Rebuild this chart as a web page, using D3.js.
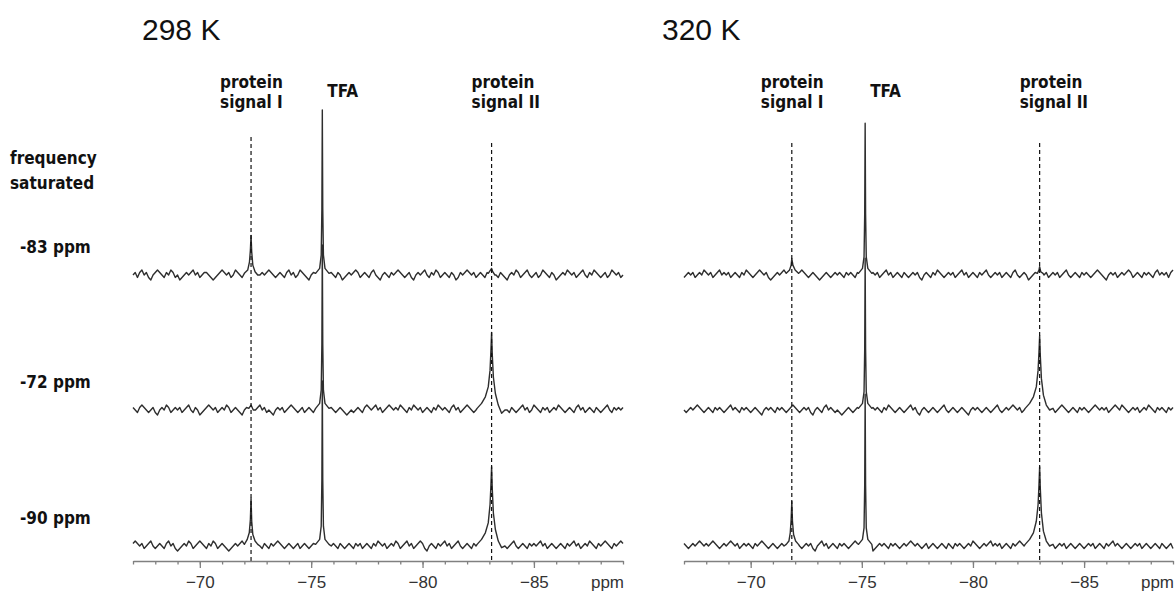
<!DOCTYPE html>
<html>
<head>
<meta charset="utf-8">
<script src="https://cdn.jsdelivr.net/npm/d3@7/dist/d3.min.js"></script>
<style>
  body { margin: 0; background: #fff; }
  svg { display: block; }
  .title { font-family: "Liberation Sans", Arial, sans-serif; font-size: 30px; fill: #111; }
  .lbl { font-family: "DejaVu Sans Condensed", "DejaVu Sans", sans-serif; font-stretch: condensed; font-weight: bold; font-size: 17px; fill: #111; }
  .axis path, .axis line { stroke: #808080; stroke-width: 1.3; }
  .axis text { font-family: "Liberation Sans", Arial, sans-serif; font-size: 17px; fill: #333; }
</style>
</head>
<body>
<svg id="chart" width="1176" height="592"></svg>
<script>
// ---- 19F saturation-transfer spectra, two temperatures ----
const temperatures = ["298 K", "320 K"];
const saturationLabels = ["-83 ppm", "-72 ppm", "-90 ppm"];
const axisTicks = [-70, -75, -80, -85];
const ppmDomain = [-67, -89];
const noiseStep = 0.1;   // ppm spacing of the baseline samples
const noiseQuantum = 1.5; // intensity units per noise step

// signal positions (ppm): protein signal I, TFA, protein signal II
const signals298 = [-72.3, -75.5, -83.1];
const signals320 = [-71.85, -75.15, -83.0];

// baseline noise (in noise quanta), one sample every 0.1 ppm from -67 to -89 ppm
const noise298a = [0,1,-1,1,2,0,1,-1,-2,0, 1,2,1,0,-1,1,0,2,1,-1, 0,-2,-1,0,1,0,1,2,0,1, -1,0,1,1,0,-1,-2,-1,0,1,
  2,1,0,1,-1,0,2,1,0,-1, 1,0,-1,-2,-3,-2,-1,0,1,0, 1,2,1,0,-1,0,1,0,-1,1, 2,0,1,-1,0,2,1,0,-1,-2,
  0,1,0,2,1,-1,0,1,2,1, 0,-1,1,0,-2,-1,0,1,0,1, 2,1,-1,0,1,0,-1,1,2,0, -1,-2,0,1,0,-1,1,0,1,2,
  1,0,-1,0,1,-1,-2,0,1,0, 1,2,0,-1,1,0,2,1,-1,0, 1,0,-1,1,0,-2,-1,1,0,1, 2,1,0,1,-1,0,1,0,-1,1,
  0,2,1,0,-1,1,0,-1,-2,0, 1,0,2,1,-1,0,1,2,0,-1, 0,1,-1,0,2,1,0,-1,1,0, -2,-1,0,1,0,2,1,0,1,-1,
  0,1,2,0,-1,1,0,2,1,0, -1,0,1,-1,0,2,1,0,1,-1, 0];
const noise298b = [1,0,-1,1,2,1,0,-1,0,1, -1,-2,0,1,0,2,1,-1,0,1, 0,1,-1,0,1,2,0,-1,1,0, -2,-1,0,1,2,1,0,1,-1,0,
  1,0,2,1,-1,0,1,0,-1,-2, 0,1,0,-1,1,0,1,2,0,1, -1,0,-1,-2,0,1,0,1,-1,0, 1,2,1,0,-1,0,1,-1,0,1,
  0,-1,-2,-1,0,1,0,-1,0,1, 0,-1,0,1,0,-1,-2,-1,0,-1, 0,1,0,-1,1,2,1,0,1,2, 0,1,-1,0,1,2,1,0,1,0,
  2,1,0,-1,1,0,2,1,0,1, -1,0,1,0,-1,1,0,2,1,0, 1,0,-1,1,2,0,1,-1,0,1, 2,1,0,-1,0,1,0,-1,1,2,
  0,1,-1,0,1,0,2,1,0,-1, 1,0,-1,0,1,2,0,1,-1,0, 2,1,0,-1,1,0,1,-1,0,1, 0,2,1,0,-1,0,1,0,-1,1,
  2,0,1,-1,0,1,0,-1,1,0, -1,0,1,2,0,-1,1,0,1,0, 1];
const noise298c = [1,2,1,0,1,-1,0,1,2,0, -1,0,1,0,-1,1,2,0,1,-1, -2,-1,0,1,0,2,1,-1,0,1, 2,1,0,-1,1,0,2,1,-1,0,
  1,0,-1,-2,-1,0,1,0,1,2, 1,0,-1,1,0,1,2,0,-1,1, 0,-1,1,0,1,2,1,0,-1,0, 1,0,-1,0,1,-1,0,1,0,-1,
  0,1,0,-1,0,1,-1,0,-1,0, 1,0,-1,1,0,-1,0,1,0,-1, 1,0,1,-1,0,1,0,-1,1,0, 2,1,0,1,-1,0,1,0,2,1,
  -1,0,1,2,0,1,-1,0,1,2, 1,-1,-2,0,1,0,-1,1,0,1, 2,0,1,-1,0,1,2,0,-1,0, 1,0,-1,1,0,-1,-2,-1,0,1,
  0,1,-1,0,1,0,1,0,-1,0, 1,2,0,-1,0,1,0,-1,1,0, 1,0,1,2,0,1,-1,0,1,0, -1,0,1,0,-1,1,0,1,2,0,
  1,-1,0,1,0,2,1,0,-1,1, 0,1,2,1,0,-1,1,0,1,2, 1];
const noise320a = [-1,0,1,0,1,-1,0,1,0,2, 1,0,1,-1,0,1,2,0,1,0, 1,-1,0,1,0,-1,1,0,2,1, 0,-1,0,1,2,1,0,1,-1,-2,
  -1,0,1,0,1,2,1,0,1,0, -1,0,1,2,1,0,-1,0,1,0, -1,-2,-1,0,1,0,-1,0,1,0, 1,0,-1,1,0,1,0,-1,1,0,
  2,1,0,-1,0,1,0,1,-1,0, 1,2,0,1,-1,0,1,0,-1,1, 0,-1,0,1,0,1,-1,-2,0,1, 0,-1,1,0,2,1,0,-1,0,1,
  0,1,-1,0,1,2,0,1,-1,0, 1,0,-1,1,0,1,2,0,-1,0, 1,0,1,-1,0,1,0,-1,1,2, 0,-1,0,1,0,-2,-1,0,1,0,
  1,2,0,1,-1,0,1,0,1,-1, 0,1,2,0,-1,0,1,0,-1,1, 0,1,0,-1,0,1,2,1,0,-1, -2,0,1,0,1,-1,0,1,0,1,
  2,1,-1,0,1,0,-1,1,0,1, 0,-1,1,2,0,1,0,1,-1,1, 2];
const noise320b = [0,-1,0,1,0,1,2,1,0,-1, 0,1,0,-1,1,0,1,0,-1,0, 1,2,0,1,0,-1,1,0,1,0, -1,0,1,0,-1,-2,0,1,0,1,
  0,-1,1,0,1,0,-1,0,1,2, 1,0,-1,0,1,0,1,-1,-2,0, 1,0,-1,1,2,0,1,0,-1,0, -1,-2,-1,0,1,0,-1,0,1,0,
  1,0,-1,-2,0,1,0,1,0,-1, 1,0,2,1,0,-1,0,1,0,-1, 0,1,2,0,1,-1,-2,0,1,0, -1,0,1,0,-1,0,1,2,0,-1,
  0,1,0,-1,0,1,0,-1,-2,0, 1,0,1,0,-1,0,1,0,-1,0, 1,2,0,-1,0,1,0,1,2,1, 0,1,-1,0,1,0,2,1,0,1,
  -1,0,1,0,-1,0,1,-1,0,1, 2,1,0,-1,0,1,0,-1,1,0, 1,0,-1,0,1,2,1,0,1,0, 1,-1,0,1,2,1,0,2,1,0,
  -1,0,1,0,1,-1,0,1,0,2, 1,0,-1,1,0,1,0,-1,1,0, 1];
const noise320c = [1,0,-1,0,1,0,1,2,1,0, 1,0,1,2,1,0,-1,0,1,0, 1,2,1,0,1,-1,0,1,0,1, 0,-1,1,0,1,2,1,0,-1,0,
  1,0,-1,0,1,0,2,1,0,-1, 0,1,0,-1,0,1,0,1,-1,-2, 0,1,2,0,1,-1,0,1,0,-1, 1,0,1,0,-1,0,1,2,1,0,
  -1,0,1,0,-1,-2,-1,0,1,0, 1,0,-1,1,0,1,0,-1,0,1, 0,1,2,1,0,1,0,-1,0,1, -1,0,1,0,-1,0,1,0,-1,1,
  0,-1,1,0,1,0,-1,0,1,0, 2,1,0,-1,0,1,0,1,2,0, 1,0,1,-1,0,1,0,-1,1,0, 1,2,1,0,-1,0,1,0,1,-1,
  0,1,0,-1,0,1,0,-1,0,1, 0,1,-1,0,1,0,-1,0,1,0, -1,0,1,0,1,-1,0,1,0,-1, 1,0,1,2,0,1,0,-1,0,1,
  0,-1,0,1,0,1,-1,0,1,0, -1,0,1,0,-1,1,0,-1,0,1, -1];

// resonance line shapes, [ppm, intensity] with TFA at 298 K = 100
const tfa298 = [[-75.2,1],[-75.38,4],[-75.45,12],[-75.48,40],[-75.5,100],[-75.52,40],[-75.55,12],[-75.62,4],[-75.8,1]];
const tfa320 = [[-74.85,1],[-75.03,4],[-75.1,11],[-75.13,37],[-75.15,92],[-75.17,37],[-75.2,11],[-75.27,4],[-75.45,1]];

const p1_298a = [[-72.0,1],[-72.15,3],[-72.23,8],[-72.27,15],[-72.3,24],[-72.33,14],[-72.38,6],[-72.48,2],[-72.6,0]];
const p2_298a = [[-82.95,1],[-83.05,3],[-83.1,4],[-83.15,2],[-83.25,0]];
const p1_298b = [[-72.2,1],[-72.3,3],[-72.4,0]];
const p2_298b = [[-82.45,1],[-82.65,4],[-82.82,8],[-82.95,14],[-83.03,24],[-83.07,36],[-83.1,47],[-83.13,34],[-83.18,20],[-83.27,10],[-83.4,3],[-83.55,-2],[-83.7,0]];
const p1_298c = [[-72.0,1],[-72.13,4],[-72.22,8],[-72.27,16],[-72.3,29],[-72.33,15],[-72.38,7],[-72.48,3],[-72.6,1]];
const p2_298c = [[-82.45,1],[-82.65,4],[-82.82,8],[-82.95,14],[-83.03,25],[-83.07,37],[-83.1,48],[-83.13,35],[-83.18,20],[-83.27,10],[-83.4,3],[-83.55,-1],[-83.7,0]];

const p1_320a = [[-71.6,1],[-71.75,3],[-71.82,6],[-71.85,10],[-71.9,6],[-72.0,3],[-72.15,1]];
const p2_320a = [[-82.9,1],[-82.97,3],[-83.0,5],[-83.05,2],[-83.15,1]];
const p2_320b = [[-82.35,1],[-82.55,4],[-82.72,8],[-82.85,14],[-82.93,24],[-82.97,35],[-83.0,45],[-83.03,33],[-83.08,19],[-83.17,9],[-83.3,3],[-83.45,0],[-83.6,1]];
const p1_320c = [[-71.6,1],[-71.72,3],[-71.78,8],[-71.82,16],[-71.85,27],[-71.88,15],[-71.93,7],[-72.02,3],[-72.15,1]];
const p2_320c = [[-82.35,1],[-82.55,4],[-82.72,8],[-82.85,15],[-82.93,25],[-82.97,37],[-83.0,48],[-83.03,35],[-83.08,20],[-83.17,9],[-83.3,3],[-83.45,0],[-83.6,1]];

// ---- layout ----
const axisY = 561;
const traceBase = [275, 410, 546];
const peakSpan = 165;  // px for 100 intensity units

const panels = [
  { title: temperatures[0], titleX: 142, range: [133, 623], signals: signals298, dashTop: [137, 143],
    noise: [noise298a, noise298b, noise298c],
    peaks: [[p1_298a, tfa298, p2_298a], [p1_298b, tfa298, p2_298b], [p1_298c, tfa298, p2_298c]] },
  { title: temperatures[1], titleX: 662, range: [684, 1173], signals: signals320, dashTop: [143, 143],
    noise: [noise320a, noise320b, noise320c],
    peaks: [[p1_320a, tfa320, p2_320a], [tfa320, p2_320b], [p1_320c, tfa320, p2_320c]] }
];

const svg = d3.select("#chart");

function buildTrace(noise, peaks) {
  let pts = noise.map((v, i) => [ppmDomain[0] - i * noiseStep, v * noiseQuantum]);
  peaks.forEach(pk => {
    const hi = d3.max(pk, d => d[0]), lo = d3.min(pk, d => d[0]);
    pts = pts.filter(d => d[0] > hi || d[0] < lo).concat(pk);
  });
  return pts.sort((a, b) => b[0] - a[0]);
}

// row labels on the left
svg.append("text").attr("class", "lbl").attr("x", 10).attr("y", 164).text("frequency");
svg.append("text").attr("class", "lbl").attr("x", 10).attr("y", 189).text("saturated");
saturationLabels.forEach((t, i) => {
  svg.append("text").attr("class", "lbl").attr("x", 20).attr("y", traceBase[i] - 22).text(t);
});

panels.forEach(p => {
  const x = d3.scaleLinear().domain(ppmDomain).range(p.range);
  const g = svg.append("g");

  g.append("text").attr("class", "title").attr("x", p.titleX).attr("y", 40).text(p.title);

  // spectra
  p.noise.forEach((nz, i) => {
    const y = d3.scaleLinear().domain([0, 100]).range([traceBase[i], traceBase[i] - peakSpan]);
    const line = d3.line().x(d => x(d[0])).y(d => y(d[1]));
    g.append("path")
      .datum(buildTrace(nz, p.peaks[i]))
      .attr("d", line)
      .attr("fill", "none")
      .attr("stroke", "#2e2e2e")
      .attr("stroke-width", 1.4)
      .attr("stroke-linejoin", "round");
  });

  // dashed guides through the protein signals
  [p.signals[0], p.signals[2]].forEach((s, k) => {
    g.append("line")
      .attr("x1", x(s)).attr("x2", x(s))
      .attr("y1", p.dashTop[k]).attr("y2", axisY)
      .attr("stroke", "#111").attr("stroke-width", 1.2)
      .attr("stroke-dasharray", "4,3");
  });

  // signal labels
  const lx1 = x(p.signals[0]) - 31;
  const lx2 = x(p.signals[2]) - 20;
  g.append("text").attr("class", "lbl").attr("x", lx1).attr("y", 88).text("protein");
  g.append("text").attr("class", "lbl").attr("x", lx1).attr("y", 108).text("signal I");
  g.append("text").attr("class", "lbl").attr("x", x(p.signals[1]) + 5).attr("y", 97).text("TFA");
  g.append("text").attr("class", "lbl").attr("x", lx2).attr("y", 88).text("protein");
  g.append("text").attr("class", "lbl").attr("x", lx2).attr("y", 108).text("signal II");

  // axis: minor ticks every ppm, labelled major ticks every 5 ppm
  g.append("g").attr("class", "axis")
    .attr("transform", `translate(0,${axisY})`)
    .call(d3.axisBottom(x).tickValues(d3.range(ppmDomain[0], ppmDomain[1] - 0.5, -1))
      .tickSize(3.5).tickSizeOuter(0).tickFormat(""));
  const major = g.append("g").attr("class", "axis")
    .attr("transform", `translate(0,${axisY})`)
    .call(d3.axisBottom(x).tickValues(axisTicks).tickSize(7).tickSizeOuter(0).tickPadding(8)
      .tickFormat(d3.format("d")));
  major.select(".domain").remove();

  g.append("text")
    .attr("x", p.range[1] + 1).attr("y", 588)
    .attr("text-anchor", "end")
    .style("font-family", "Liberation Sans, Arial, sans-serif")
    .style("font-size", "17px").style("fill", "#333")
    .text("ppm");
});
</script>
</body>
</html>
